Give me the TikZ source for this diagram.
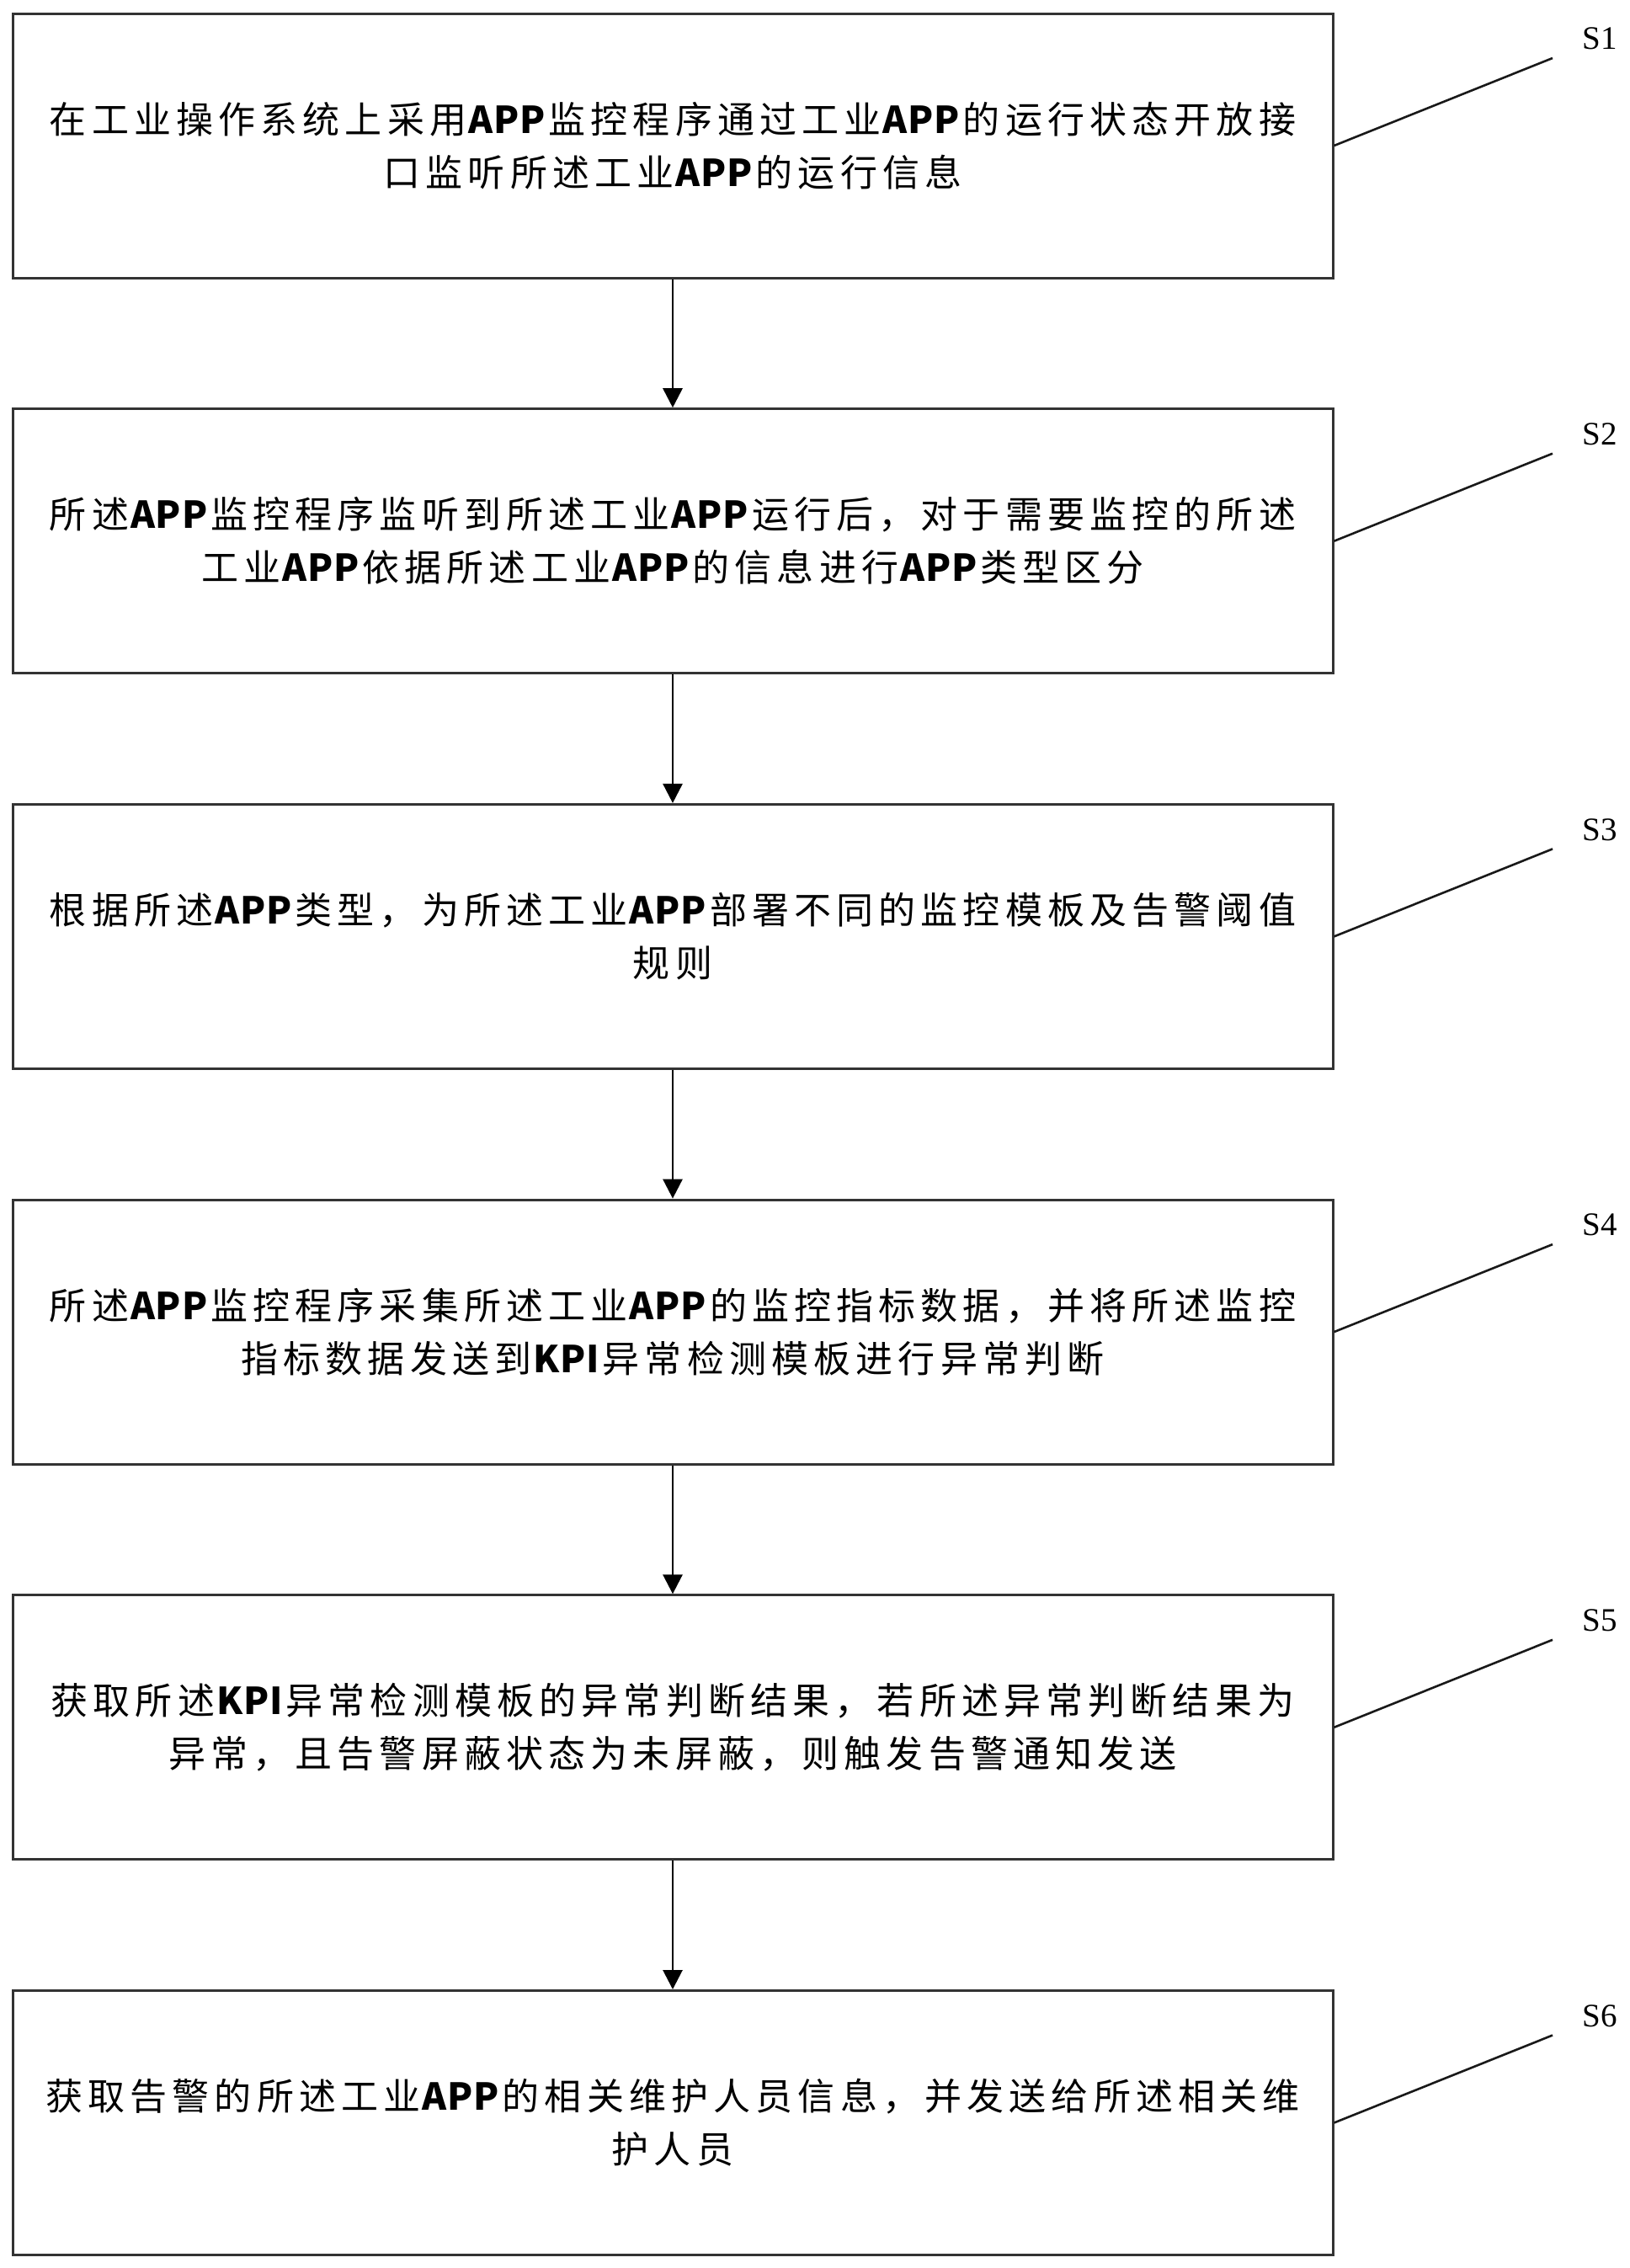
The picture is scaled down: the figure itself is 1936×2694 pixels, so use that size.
\documentclass[tikz,border=0pt]{standalone}
\usepackage{fontspec}
\usetikzlibrary{arrows.meta}
\newfontfamily\cjk[LetterSpace=14]{Noto Sans CJK SC}
\newfontfamily\apfont[LetterSpace=2]{Noto Sans CJK SC}
\newfontfamily\lser{Liberation Serif}
\newcommand\ap[1]{{\apfont\bfseries\kern1pt #1\kern2pt}}
\tikzset{
  stepbox/.style={draw=black!80, line width=1.5pt, minimum width=784pt, minimum height=157pt,
    inner sep=0pt, align=center, font=\cjk\fontsize{22pt}{31.5pt}\selectfont},
  slabel/.style={font=\lser\fontsize{19.5pt}{22pt}\selectfont, inner sep=0pt},
  leader/.style={line width=1.3pt, draw=black!90},
  flow/.style={line width=1.4pt, -{Triangle[width=11.5pt,length=11.5pt]}}
}
\begin{document}
\begin{tikzpicture}[x=0.5pt,y=-0.5pt]
\useasboundingbox[fill=white] (0,0) rectangle (1936,2694);
% boxes
\node[stepbox] (b1) at (799,173) {在工业操作系统上采用\ap{APP}监控程序通过工业\ap{APP}的运行状态开放接\\口监听所述工业\ap{APP}的运行信息};
\node[stepbox] (b2) at (799,642.7) {所述\ap{APP}监控程序监听到所述工业\ap{APP}运行后，对于需要监控的所述\\工业\ap{APP}依据所述工业\ap{APP}的信息进行\ap{APP}类型区分};
\node[stepbox] (b3) at (799,1112.4) {根据所述\ap{APP}类型，为所述工业\ap{APP}部署不同的监控模板及告警阈值\\规则};
\node[stepbox] (b4) at (799,1582.1) {所述\ap{APP}监控程序采集所述工业\ap{APP}的监控指标数据，并将所述监控\\指标数据发送到\ap{KPI}异常检测模板进行异常判断};
\node[stepbox] (b5) at (799,2051.8) {获取所述\ap{KPI}异常检测模板的异常判断结果，若所述异常判断结果为\\异常，且告警屏蔽状态为未屏蔽，则触发告警通知发送};
\node[stepbox] (b6) at (799,2521.5) {获取告警的所述工业\ap{APP}的相关维护人员信息，并发送给所述相关维\\护人员};
% arrows
\draw[flow] (b1.south) -- (b2.north);
\draw[flow] (b2.south) -- (b3.north);
\draw[flow] (b3.south) -- (b4.north);
\draw[flow] (b4.south) -- (b5.north);
\draw[flow] (b5.south) -- (b6.north);
% step labels
\foreach \i/\t in {1/16,2/485.7,3/955.4,4/1425.1,5/1894.8,6/2364.5}{
  \node[slabel] (s\i) at (1900,\t+30) {S\i};
  \coordinate (e\i) at (1844,\t+53);
  \draw[leader] (b\i.east) -- (e\i);
}
\end{tikzpicture}
\end{document}
